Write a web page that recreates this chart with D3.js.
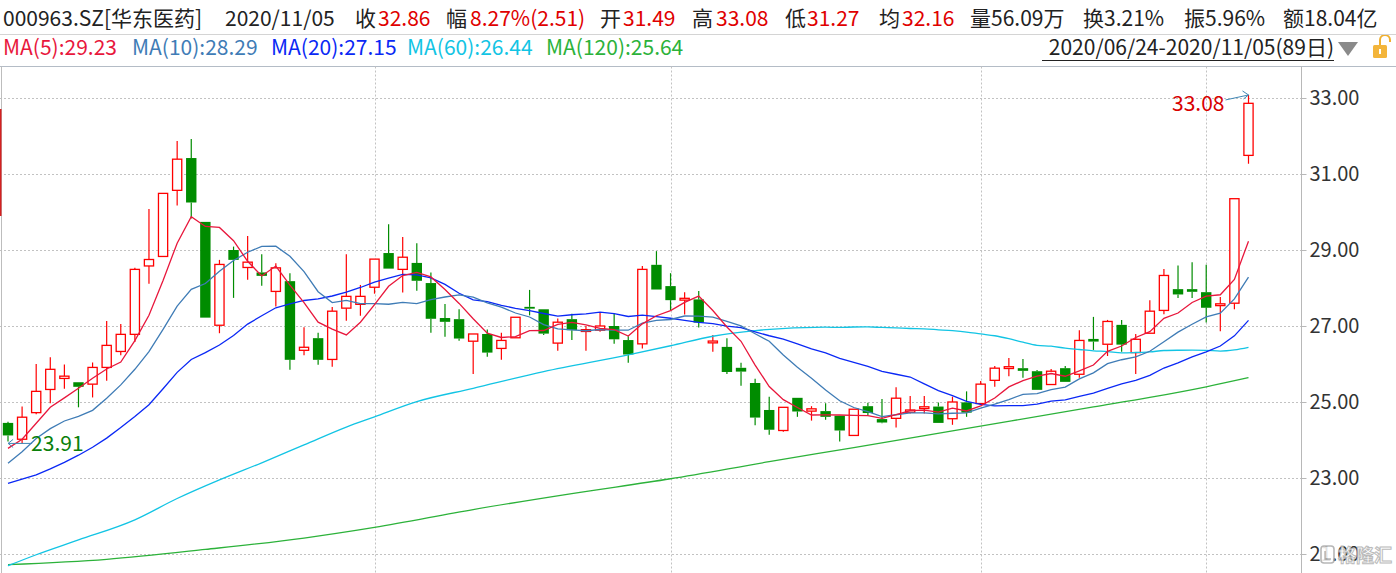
<!DOCTYPE html>
<html>
<head>
<meta charset="utf-8">
<script src="https://cdn.jsdelivr.net/npm/d3@7"></script>
<style>
  html, body { margin: 0; padding: 0; background: #fff; overflow: hidden; }
  svg { display: block; }
</style>
</head>
<body>
<svg id="chart" width="1396" height="573"></svg>
<script>
// 000963.SZ daily candles, 2020/06/24 – 2020/11/05 (89 trading days)
const opens = [
  24.45, 24.02, 24.72, 25.33, 25.62, 25.52, 25.47, 25.91, 26.33, 26.78,
  28.58, 28.83, 30.57, 31.42, 29.74, 27.02, 29.00, 28.54, 28.41, 27.91,
  28.18, 26.36, 26.68, 26.12, 27.47, 27.57, 28.02, 28.92, 28.49, 28.66,
  28.13, 27.21, 27.18, 26.60, 26.79, 26.41, 26.69, 27.50, 27.44, 26.55,
  27.18, 26.87, 26.89, 27.00, 26.63, 26.53, 28.61, 28.05, 27.69, 27.70,
  26.57, 26.45, 25.90, 25.50, 24.79, 24.25, 25.11, 24.76, 24.76, 24.64,
  24.12, 24.89, 24.55, 24.57, 24.73, 24.84, 24.88, 24.56, 24.99, 24.96,
  25.57, 25.90, 25.89, 25.81, 25.46, 25.89, 25.73, 26.66, 26.52, 27.03,
  26.30, 26.81, 27.41, 27.97, 27.97, 27.89, 27.55, 27.60, 31.49
];
const highs = [
  24.48, 24.88, 26.00, 26.18, 25.99, 25.52, 26.04, 27.13, 27.05, 28.53,
  30.08, 30.49, 31.87, 31.92, 29.74, 28.74, 29.09, 29.37, 28.89, 28.65,
  28.39, 26.97, 26.82, 27.50, 28.89, 28.08, 28.76, 29.68, 29.34, 29.18,
  28.41, 27.58, 27.44, 26.79, 26.91, 26.82, 27.23, 27.95, 27.44, 27.20,
  27.32, 27.00, 27.36, 27.33, 26.73, 28.58, 28.97, 28.39, 27.89, 27.92,
  26.76, 26.68, 26.03, 25.61, 25.14, 24.86, 25.11, 24.89, 24.97, 24.64,
  24.81, 24.98, 25.08, 25.39, 25.16, 25.16, 24.99, 25.14, 25.28, 25.55,
  25.95, 26.16, 26.13, 25.84, 25.87, 25.95, 26.89, 27.24, 27.16, 27.16,
  26.79, 27.68, 28.50, 28.59, 28.68, 28.61, 27.76, 30.35, 33.08
];
const lows = [
  23.96, 23.91, 24.68, 24.97, 25.35, 24.86, 25.12, 25.56, 26.23, 26.58,
  28.11, 28.83, 30.17, 29.83, 27.22, 26.81, 27.74, 28.22, 28.06, 27.51,
  25.85, 26.23, 25.98, 25.93, 27.14, 27.27, 27.85, 28.51, 27.88, 27.93,
  26.82, 26.72, 26.61, 25.74, 26.19, 26.11, 26.69, 27.28, 26.76, 26.35,
  26.63, 26.35, 26.85, 26.53, 26.03, 26.41, 27.96, 27.42, 27.30, 26.96,
  26.32, 25.74, 25.43, 24.39, 24.14, 24.22, 24.61, 24.51, 24.53, 23.96,
  24.12, 24.66, 24.44, 24.33, 24.70, 24.70, 24.45, 24.40, 24.61, 24.96,
  25.40, 25.68, 25.64, 25.32, 25.46, 25.53, 25.64, 26.37, 26.21, 26.32,
  25.74, 26.81, 27.31, 27.74, 27.74, 27.09, 26.86, 27.44, 31.27
];
const closes = [
  24.12, 24.60, 25.28, 25.86, 25.68, 25.40, 25.91, 26.49, 26.78, 28.49,
  28.75, 30.49, 31.39, 30.25, 27.22, 28.62, 28.74, 28.68, 28.32, 28.53,
  26.11, 26.44, 26.11, 27.39, 27.78, 27.78, 28.76, 28.51, 28.81, 28.19,
  27.19, 27.11, 26.67, 26.79, 26.30, 26.62, 27.23, 27.46, 26.80, 27.10,
  26.89, 26.89, 27.00, 26.65, 26.25, 28.49, 27.96, 27.68, 27.72, 27.09,
  26.59, 25.79, 25.80, 24.59, 24.27, 24.86, 24.75, 24.82, 24.61, 24.25,
  24.81, 24.71, 24.46, 25.10, 24.79, 24.86, 24.45, 25.00, 24.72, 25.47,
  25.89, 25.91, 25.82, 25.32, 25.81, 25.53, 26.62, 26.59, 27.12, 26.51,
  26.65, 27.39, 28.33, 27.83, 27.90, 27.48, 27.57, 30.35, 32.86
];

// Moving-average values for the days whose window reaches back before 06/24
const ma5Lead  = [23.78, 24.02, 24.44, 24.86];
const ma10Lead = [23.39, 23.69, 24.04, 24.30, 24.50, 24.62, 24.78, 25.10, 25.45];
const ma20Lead = [22.86, 22.97, 23.08, 23.24, 23.41, 23.60, 23.81, 24.05, 24.33, 24.62,
                  24.93, 25.35, 25.78, 26.12, 26.30, 26.50, 26.75, 27.05, 27.27];
// [day index, value]
const ma60Lead = [[0, 20.69], [2, 20.98], [5, 21.37], [9, 21.90], [12, 22.46], [15, 22.95],
                  [18, 23.40], [21, 23.87], [24, 24.34], [26, 24.61], [29, 25.01], [33, 25.36],
                  [38, 25.80], [44, 26.24], [47, 26.48], [50, 26.73], [53, 26.88], [58, 26.97]];
const ma120Points = [[0, 20.72], [7, 20.86], [14, 21.12], [21, 21.42], [26, 21.70], [33, 22.17],
                     [40, 22.59], [47, 22.98], [54, 23.43], [60, 23.80], [67, 24.24], [77, 24.87],
                     [81, 25.12], [85, 25.40], [88, 25.64]];
const maLatest = [29.23, 28.29, 27.15, 26.44, 25.64];
const maPeriods = [5, 10, 20, 60, 120];

const priceTicks = [21, 23, 25, 27, 29, 31, 33];
// first trading day of Aug, Sep, Oct, Nov
const monthStartIndex = [26, 47, 69, 85];

const stockName = "000963.SZ[华东医药]";
const quoteDate = "2020/11/05";
const rangeText = "2020/06/24-2020/11/05(89日)";
const avgPrice = 32.16;
const volumeText = "56.09万";
const turnoverText = "3.21%";
const amountText = "18.04亿";
const watermarkText = "格隆汇";

// ---------------------------------------------------------------
const W = 1396, H = 573;
const axisX = 1301.5;
const plotTop = 66.5;
const UP = "#ff0000", DOWN = "#008c00";
const VAL_RED = "#e00000", DARK = "#222";
const maColors = ["#e8173c", "#3f7cb6", "#0a28f5", "#12c4e4", "#2cb23a"];
const FONT = "'Microsoft YaHei','Noto Sans CJK SC','Noto Sans',sans-serif";

const svg = d3.select("#chart");
const n = closes.length;
const x = d3.scaleLinear().domain([0, n - 1]).range([8, 1248.5]);
const y = d3.scaleLinear().domain([21, 33]).range([554, 98]);
const f2 = d3.format(".2f");

// ----- header -----
const header = svg.append("g").attr("font-family", FONT).attr("font-size", 21);
const last = n - 1;
const prevClose = closes[last - 1];
const chg = closes[last] - prevClose;
const row1 = [
  [3, stockName, DARK],
  [225, quoteDate, DARK],
  [355, "收", DARK], [378, f2(closes[last]), VAL_RED],
  [446, "幅", DARK], [470, f2(chg / prevClose * 100) + "%(" + f2(chg) + ")", VAL_RED],
  [600, "开", DARK], [623, f2(opens[last]), VAL_RED],
  [692, "高", DARK], [716, f2(highs[last]), VAL_RED],
  [785, "低", DARK], [807, f2(lows[last]), VAL_RED],
  [879, "均", DARK], [902, f2(avgPrice), VAL_RED],
  [970, "量" + volumeText, DARK],
  [1083, "换" + turnoverText, DARK],
  [1184, "振" + f2((highs[last] - lows[last]) / prevClose * 100) + "%", DARK],
  [1283, "额" + amountText, DARK]
];
header.selectAll("text.r1").data(row1).join("text")
  .attr("class", "r1").attr("x", d => d[0]).attr("y", 26)
  .attr("fill", d => d[2]).text(d => d[1]);

const row2 = maPeriods.map((p, i) => [[3, 132, 271, 407, 546][i], `MA(${p}):${f2(maLatest[i])}`, maColors[i]]);
header.selectAll("text.r2").data(row2).join("text")
  .attr("class", "r2").attr("x", d => d[0]).attr("y", 55)
  .attr("fill", d => d[2]).text(d => d[1]);

header.append("text").attr("x", 1334).attr("y", 55)
  .attr("text-anchor", "end").attr("fill", DARK).text(rangeText);
svg.append("line").attr("x1", 1042).attr("x2", 1334).attr("y1", 60.5).attr("y2", 60.5)
  .attr("stroke", DARK).attr("stroke-width", 1);
// dropdown triangle
svg.append("path").attr("d", "M1338,42 L1358,42 L1348,56 Z").attr("fill", "#8a8a8a");
// unlocked padlock
svg.append("path").attr("d", "M1380,45 L1380,40 A5,5 0 0 1 1390,40 L1390,42")
  .attr("fill", "none").attr("stroke", "#f0b030").attr("stroke-width", 2);
svg.append("rect").attr("x", 1373).attr("y", 45).attr("width", 14).attr("height", 13)
  .attr("rx", 1.5).attr("fill", "#f3b53b");
svg.append("rect").attr("x", 1379).attr("y", 49).attr("width", 2).attr("height", 5).attr("fill", "#fff");

// separators
svg.append("line").attr("x1", 0).attr("x2", W).attr("y1", 34.5).attr("y2", 34.5)
  .attr("stroke", "#d4d4d4");
svg.append("line").attr("x1", 0).attr("x2", W).attr("y1", plotTop).attr("y2", plotTop)
  .attr("stroke", "#b4bcc6");

// ----- grid -----
const grid = svg.append("g");
grid.selectAll("line.h").data(priceTicks).join("line").attr("class", "h")
  .attr("x1", 0).attr("x2", axisX)
  .attr("y1", d => Math.round(y(d)) + 0.5).attr("y2", d => Math.round(y(d)) + 0.5)
  .attr("stroke", "#c2c2c2").attr("stroke-dasharray", "2,2");
grid.selectAll("line.v").data(monthStartIndex).join("line").attr("class", "v")
  .attr("x1", d => Math.round(x(d)) + 0.5).attr("x2", d => Math.round(x(d)) + 0.5)
  .attr("y1", plotTop).attr("y2", H)
  .attr("stroke", "#c2c2c2").attr("stroke-dasharray", "2,2");

// left border with its marker
svg.append("line").attr("x1", 1.5).attr("x2", 1.5).attr("y1", plotTop).attr("y2", H)
  .attr("stroke", "#bdbdbd");
svg.append("line").attr("x1", 0.5).attr("x2", 0.5).attr("y1", 109).attr("y2", 216)
  .attr("stroke", "#d42020").attr("stroke-width", 2);

// ----- right price axis -----
svg.append("line").attr("x1", axisX).attr("x2", axisX).attr("y1", plotTop).attr("y2", H)
  .attr("stroke", "#b8b8b8");
const axis = svg.append("g").attr("transform", `translate(${axisX},0)`)
  .call(d3.axisRight(y).tickValues(priceTicks).tickFormat(f2).tickSize(5).tickPadding(3));
axis.select(".domain").remove();
axis.selectAll(".tick line").attr("stroke", "#b8b8b8");
axis.selectAll(".tick text").attr("font-family", FONT).attr("font-size", 20).attr("fill", "#333");

// ----- candles -----
const candles = svg.append("g");
const data = closes.map((c, i) => ({ i, o: opens[i], h: highs[i], l: lows[i], c }));
candles.selectAll("g").data(data).join("g").each(function (d) {
  const g = d3.select(this);
  const cx = x(d.i);
  const up = d.c >= d.o;
  const col = up ? UP : DOWN;
  const top = y(Math.max(d.o, d.c)), bot = y(Math.min(d.o, d.c));
  const bodyH = Math.max(bot - top, 1.8);
  const t = bot - top < 1.8 ? (top + bot) / 2 - 0.9 : top;
  if (y(d.h) < t) g.append("line").attr("x1", cx).attr("x2", cx).attr("y1", y(d.h)).attr("y2", t)
    .attr("stroke", col).attr("stroke-width", 1.2);
  if (y(d.l) > t + bodyH) g.append("line").attr("x1", cx).attr("x2", cx).attr("y1", t + bodyH).attr("y2", y(d.l))
    .attr("stroke", col).attr("stroke-width", 1.2);
  if (up) {
    g.append("rect").attr("x", cx - 4.6).attr("y", t).attr("width", 9.2).attr("height", bodyH)
      .attr("fill", "#fff").attr("stroke", col).attr("stroke-width", 1.3);
  } else {
    g.append("rect").attr("x", cx - 5.2).attr("y", t).attr("width", 10.4).attr("height", bodyH)
      .attr("fill", col);
  }
});

// ----- moving averages -----
function movingAverage(period, lead) {
  const pts = lead.slice();
  for (let i = period - 1; i < n; i++) {
    pts.push([i, d3.mean(closes.slice(i - period + 1, i + 1))]);
  }
  return pts;
}
const asPairs = arr => arr.map((v, i) => [i, v]);
const maSeries = [
  movingAverage(5, asPairs(ma5Lead)),
  movingAverage(10, asPairs(ma10Lead)),
  movingAverage(20, asPairs(ma20Lead)),
  movingAverage(60, ma60Lead),
  ma120Points
];
const straight = d3.line().x(d => x(d[0])).y(d => y(d[1]));
const smooth = d3.line().x(d => x(d[0])).y(d => y(d[1])).curve(d3.curveMonotoneX);
const maG = svg.append("g");
[4, 3, 2, 1, 0].forEach(k => {
  maG.append("path").attr("d", (k >= 3 ? smooth : straight)(maSeries[k]))
    .attr("fill", "none").attr("stroke", maColors[k]).attr("stroke-width", 1.3);
});

// ----- high / low markers -----
const ARROW = "#3f86b4";
const hiIdx = d3.maxIndex(highs), loIdx = d3.minIndex(lows);
const hx = x(hiIdx), hy = y(highs[hiIdx]);
svg.append("path").attr("d", `M${hx - 23},${hy + 5} L${hx},${hy} M${hx - 6},${hy - 4} L${hx},${hy} L${hx - 5},${hy + 4}`)
  .attr("fill", "none").attr("stroke", ARROW).attr("stroke-width", 1);
svg.append("text").attr("x", hx - 24).attr("y", hy + 16).attr("text-anchor", "end")
  .attr("font-family", FONT).attr("font-size", 21).attr("fill", "#d80000")
  .text(f2(highs[hiIdx]));

const lx = x(loIdx), ly = y(lows[loIdx]);
svg.append("path").attr("d", `M${lx + 10},${ly} L${lx - 14},${ly} M${lx - 9},${ly - 4} L${lx - 14},${ly} L${lx - 9},${ly + 4}`)
  .attr("fill", "none").attr("stroke", ARROW).attr("stroke-width", 1);
svg.append("text").attr("x", lx + 9).attr("y", ly + 8)
  .attr("font-family", FONT).attr("font-size", 21).attr("fill", "#0a800a")
  .text(f2(lows[loIdx]));

// ----- watermark (white glyphs with a grey rim, laid over the corner) -----
const wm = svg.append("g").attr("opacity", 0.85);
wm.append("rect").attr("x", 1321).attr("y", 546).attr("width", 13).attr("height", 17).attr("rx", 3)
  .attr("fill", "#fff").attr("stroke", "#aaa").attr("stroke-width", 1.6);
wm.append("path").attr("d", "M1325,551 L1325,559 L1331,559").attr("fill", "none")
  .attr("stroke", "#aaa").attr("stroke-width", 1.4);
wm.append("text").attr("x", 1338).attr("y", 562).attr("font-family", FONT).attr("font-size", 18)
  .attr("font-weight", "bold").attr("fill", "#fff").attr("stroke", "#b0b0b0").attr("stroke-width", 1)
  .attr("paint-order", "fill").text(watermarkText);
</script>
</body>
</html>
